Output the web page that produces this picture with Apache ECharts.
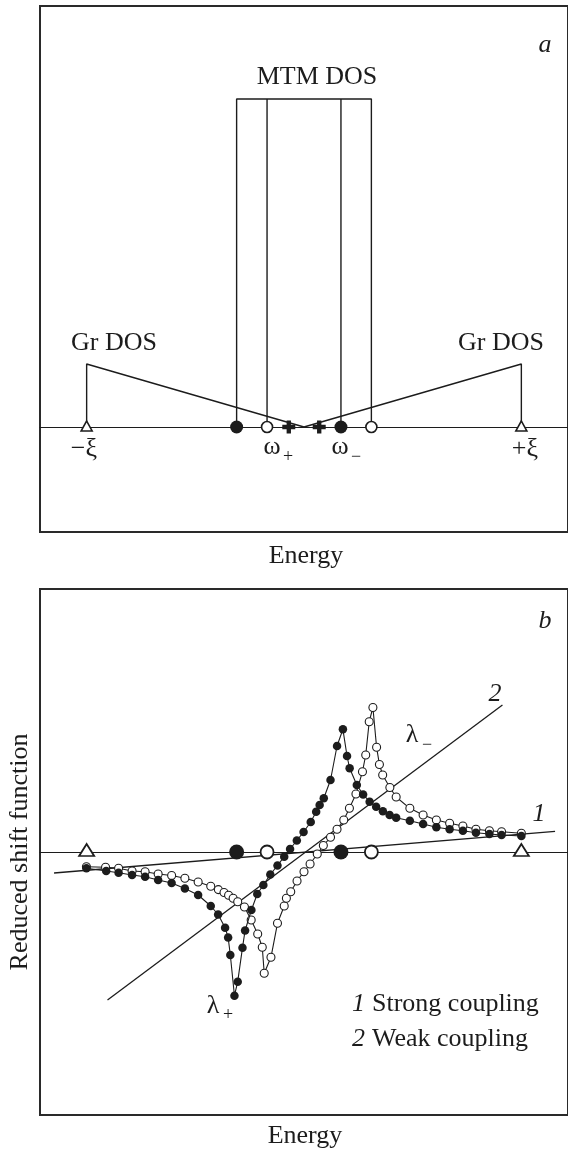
<!DOCTYPE html>
<html>
<head>
<meta charset="utf-8">
<style>
  html, body { margin: 0; padding: 0; background: #fff; }
  #chart { width: 568px; height: 1151px; }
</style>
<script src="https://cdn.jsdelivr.net/npm/echarts@6/dist/echarts.min.js"></script>
</head>
<body>
<div id="chart"></div>
<script>
// ---------- DATA ----------
// Panel a (energy axis: 0 at the centre, ±xi = ±1)
const xiPositions = [-1, 1];
const grDosHeight = 0.63;
const mtmHeight = 3.28;
const mtmFilledPos = [-0.31, 0.17];
const mtmOpenPos = [-0.17, 0.31];
const crossPos = [-0.07, 0.07];

// Panel b: reduced shift function
const filledE = [-1.001,-0.910,-0.853,-0.791,-0.731,-0.671,-0.609,-0.548,-0.487,-0.429,-0.395,-0.363,-0.349,-0.339,-0.320,-0.305,-0.283,-0.271,-0.242,-0.215,-0.187,-0.155,-0.122,-0.091,-0.064,-0.033,-0.002,0.031,0.056,0.072,0.091,0.122,0.152,0.179,0.198,0.210,0.243,0.272,0.302,0.332,0.363,0.394,0.424,0.487,0.548,0.609,0.670,0.731,0.791,0.853,0.909,1.000];
const filledY = [-0.163,-0.19,-0.207,-0.23,-0.247,-0.28,-0.31,-0.365,-0.43,-0.54,-0.625,-0.757,-0.855,-1.03,-1.437,-1.297,-0.957,-0.785,-0.58,-0.42,-0.33,-0.225,-0.135,-0.047,0.03,0.115,0.2,0.3,0.403,0.47,0.537,0.72,1.06,1.227,0.96,0.837,0.67,0.575,0.503,0.453,0.408,0.37,0.342,0.313,0.28,0.247,0.227,0.213,0.193,0.18,0.17,0.16];
const openE = [-1.001,-0.913,-0.853,-0.791,-0.731,-0.671,-0.609,-0.548,-0.487,-0.429,-0.394,-0.368,-0.347,-0.326,-0.305,-0.274,-0.243,-0.213,-0.192,-0.183,-0.152,-0.122,-0.091,-0.081,-0.061,-0.032,0.000,0.028,0.061,0.089,0.122,0.152,0.183,0.209,0.239,0.269,0.284,0.300,0.317,0.334,0.347,0.362,0.395,0.424,0.487,0.548,0.609,0.670,0.731,0.791,0.853,0.909,1.000];
const openY = [-0.147,-0.153,-0.163,-0.19,-0.197,-0.22,-0.235,-0.263,-0.3,-0.343,-0.376,-0.405,-0.433,-0.463,-0.497,-0.55,-0.68,-0.82,-0.953,-1.213,-1.053,-0.713,-0.54,-0.463,-0.397,-0.29,-0.197,-0.12,-0.02,0.065,0.147,0.227,0.32,0.437,0.58,0.803,0.97,1.303,1.445,1.047,0.875,0.77,0.645,0.55,0.437,0.37,0.32,0.287,0.26,0.227,0.213,0.203,0.187];
const strongLineE = [-1.15, 1.155];
const strongLineY = [-0.21, 0.207];
const weakLineE = [-0.904, 0.913];
const weakLineY = [-1.48, 1.47];
const baseFilledPos = [-0.31, 0.17];
const baseOpenPos = [-0.17, 0.31];

// ---------- CHART ----------
const FONT = '"Liberation Serif", "DejaVu Serif", serif';
const INK = '#1c1c1c';
const zip = (a, b) => a.map((v, i) => [v, b[i]]);
const onBase = arr => arr.map(v => [v, 0]);

const chart = echarts.init(document.getElementById('chart'), null, {renderer: 'canvas'});

function xAx(gi) {
  return {
    type: 'value', gridIndex: gi, min: -1.2146, max: 1.2146,
    axisLine: {show: true, onZero: true, lineStyle: {color: INK, width: 1.2}},
    axisTick: {show: false}, axisLabel: {show: false}, splitLine: {show: false}
  };
}
function yAx(gi, mn, mx) {
  return {
    type: 'value', gridIndex: gi, min: mn, max: mx,
    axisLine: {show: false}, axisTick: {show: false}, axisLabel: {show: false}, splitLine: {show: false}
  };
}
function seg(name, gi, data, w) {
  return {
    name, type: 'line', xAxisIndex: gi, yAxisIndex: gi, data,
    symbol: 'none', lineStyle: {color: INK, width: w || 1.4}, silent: true, animation: false, z: 2
  };
}
function pts(name, gi, data, symbol, size, fill, border, bw, offset, z) {
  return {
    name, type: 'scatter', xAxisIndex: gi, yAxisIndex: gi, data,
    symbol, symbolSize: size, symbolOffset: offset || [0, 0],
    itemStyle: {color: fill, borderColor: border, borderWidth: bw, opacity: 1},
    silent: true, animation: false, z: z || 5
  };
}
const PLUS = 'path://M4,0H8V4H12V8H8V12H4V8H0V4H4Z';

function txt(x, y, text, opts) {
  opts = opts || {};
  return {
    type: 'text', x, y, rotation: opts.rot || 0, silent: true, z: 100,
    style: {
      text, fill: INK, font: (opts.style || '') + ' ' + (opts.size || 26) + 'px ' + FONT,
      textAlign: opts.align || 'center', textVerticalAlign: 'middle'
    }
  };
}

const option = {
  backgroundColor: '#fff',
  animation: false,
  grid: [
    {left: 40, top: 6, right: -4, height: 526, show: true, borderColor: '#2a2a2a', borderWidth: 2, backgroundColor: 'transparent'},
    {left: 40, top: 589, right: -4, height: 526, show: true, borderColor: '#2a2a2a', borderWidth: 2, backgroundColor: 'transparent'}
  ],
  xAxis: [xAx(0), xAx(1)],
  yAxis: [yAx(0, -1.05, 4.21), yAx(1, -2.63, 2.63)],
  series: [
    // panel a
    seg('Gr DOS left', 0, [[xiPositions[0], 0], [xiPositions[0], grDosHeight], [0, 0]]),
    seg('Gr DOS right', 0, [[xiPositions[1], 0], [xiPositions[1], grDosHeight], [0, 0]]),
    seg('MTM outer', 0, [[mtmFilledPos[0], 0], [mtmFilledPos[0], mtmHeight], [mtmOpenPos[1], mtmHeight], [mtmOpenPos[1], 0]]),
    seg('MTM inner 1', 0, [[mtmOpenPos[0], 0], [mtmOpenPos[0], mtmHeight]]),
    seg('MTM inner 2', 0, [[mtmFilledPos[1], 0], [mtmFilledPos[1], mtmHeight]]),
    pts('xi a', 0, onBase(xiPositions), 'triangle', [11, 10], '#fff', INK, 1.6, [0, -1]),
    pts('mtm filled a', 0, onBase(mtmFilledPos), 'circle', 13, INK, INK, 0),
    pts('mtm open a', 0, onBase(mtmOpenPos), 'circle', 11, '#fff', INK, 1.6),
    pts('cross a', 0, onBase(crossPos), PLUS, 13, INK, INK, 0),
    // panel b
    seg('Strong coupling line', 1, zip(strongLineE, strongLineY), 1.3),
    seg('Weak coupling line', 1, zip(weakLineE, weakLineY), 1.3),
    {
      name: 'open', type: 'line', xAxisIndex: 1, yAxisIndex: 1, data: zip(openE, openY),
      symbol: 'circle', symbolSize: 8, showAllSymbol: true,
      itemStyle: {color: '#fff', borderColor: INK, borderWidth: 1.1},
      lineStyle: {color: INK, width: 1.1}, silent: true, animation: false, z: 3
    },
    {
      name: 'filled', type: 'line', xAxisIndex: 1, yAxisIndex: 1, data: zip(filledE, filledY),
      symbol: 'circle', symbolSize: 8.5, showAllSymbol: true,
      itemStyle: {color: INK, borderColor: INK, borderWidth: 0},
      lineStyle: {color: INK, width: 1.1}, silent: true, animation: false, z: 4
    },
    pts('xi b', 1, onBase(xiPositions), 'triangle', [15, 12], '#fff', INK, 1.8, [0, -2], 6),
    pts('base filled b', 1, onBase(baseFilledPos), 'circle', 15, INK, INK, 0, null, 6),
    pts('base open b', 1, onBase(baseOpenPos), 'circle', 13, '#fff', INK, 1.8, null, 6)
  ],
  graphic: [
    // panel a texts
    txt(545, 45, 'a', {style: 'italic'}),
    txt(317, 77, 'MTM DOS'),
    txt(114, 343, 'Gr DOS'),
    txt(501, 343, 'Gr DOS'),
    txt(84, 449, '\u2212\u03BE'),
    txt(272, 447, '\u03C9'),
    txt(288, 457, '+', {size: 18}),
    txt(340, 447, '\u03C9'),
    txt(356, 457, '\u2212', {size: 18}),
    txt(525, 449, '+\u03BE'),
    txt(306, 556, 'Energy'),
    // panel b texts
    txt(545, 621, 'b', {style: 'italic'}),
    txt(495, 694, '2', {style: 'italic'}),
    txt(412, 735, '\u03BB'),
    txt(427, 745, '\u2212', {size: 18}),
    txt(539, 814, '1', {style: 'italic'}),
    txt(213, 1006, '\u03BB'),
    txt(228, 1015, '+', {size: 18}),
    txt(352, 1004, '1', {style: 'italic', align: 'left'}),
    txt(372, 1004, 'Strong coupling', {align: 'left'}),
    txt(352, 1039, '2', {style: 'italic', align: 'left'}),
    txt(372, 1039, 'Weak coupling', {align: 'left'}),
    txt(20, 852, 'Reduced shift function', {rot: Math.PI / 2}),
    txt(305, 1136, 'Energy')
  ]
};
chart.setOption(option);
</script>
</body>
</html>
